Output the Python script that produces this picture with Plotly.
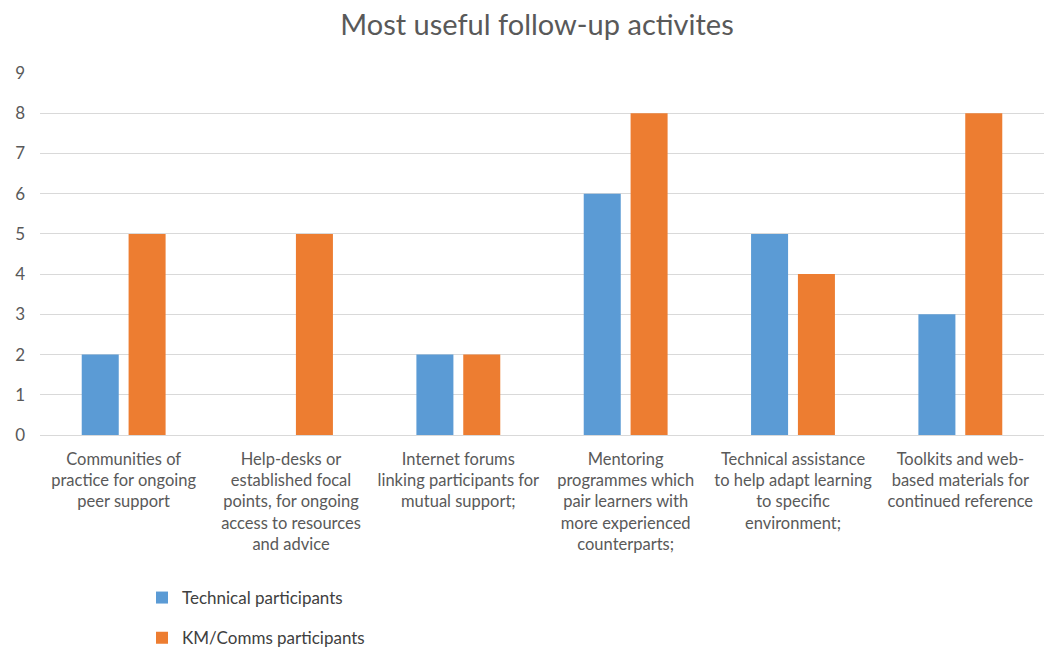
import plotly.graph_objects as go

categories = [
    "Communities of<br>practice for ongoing<br>peer support",
    "Help-desks or<br>established focal<br>points, for ongoing<br>access to resources<br>and advice",
    "Internet forums<br>linking participants for<br>mutual support;",
    "Mentoring<br>programmes which<br>pair learners with<br>more experienced<br>counterparts;",
    "Technical assistance<br>to help adapt learning<br>to specific<br>environment;",
    "Toolkits and web-<br>based materials for<br>continued reference",
]
technical = [2, 0, 2, 6, 5, 3]
km_comms = [5, 5, 2, 8, 4, 8]

FONT = "Lato, 'Open Sans', sans-serif"

fig = go.Figure()
fig.add_trace(go.Bar(x=categories, y=technical, name="Technical participants",
                     marker=dict(color="#5B9BD5", line=dict(width=0)),
                     legend="legend", showlegend=True))
fig.add_trace(go.Bar(x=categories, y=km_comms, name="KM/Comms participants",
                     marker=dict(color="#ED7D31", line=dict(width=0)),
                     legend="legend2", showlegend=True))

legend_style = dict(xanchor="left", yanchor="middle", orientation="v",
                    yref="container",
                    font=dict(family=FONT, size=17, color="#404040"),
                    itemwidth=30, bgcolor="rgba(0,0,0,0)")

fig.update_layout(
    width=1044, height=650,
    showlegend=True,
    margin=dict(l=40, r=0, t=73, b=215),
    paper_bgcolor="white", plot_bgcolor="white",
    barmode="group", bargap=0.44, bargroupgap=0.21,
    title=dict(text="Most useful follow-up activites", xref="paper", x=0.495,
               xanchor="center", y=0.962, yanchor="middle",
               font=dict(family=FONT, size=29, color="#595959")),
    font=dict(family=FONT, color="#595959"),
    xaxis=dict(tickfont=dict(size=16.5, color="#595959"), showgrid=False,
               showline=False, ticks="", tickangle=0, automargin=False,
               ticklabelstandoff=12),
    yaxis=dict(range=[0, 9], dtick=1, showgrid=True, gridcolor="#D9D9D9",
               gridwidth=1, zeroline=True, zerolinecolor="#D9D9D9",
               zerolinewidth=1, tickfont=dict(size=17, color="#595959"),
               ticks="", ticklabelstandoff=14, automargin=False),
    legend=dict(x=0.1016, y=0.080, **legend_style),
    legend2=dict(x=0.1016, y=0.018, **legend_style),
)

fig.write_html("out.html")
